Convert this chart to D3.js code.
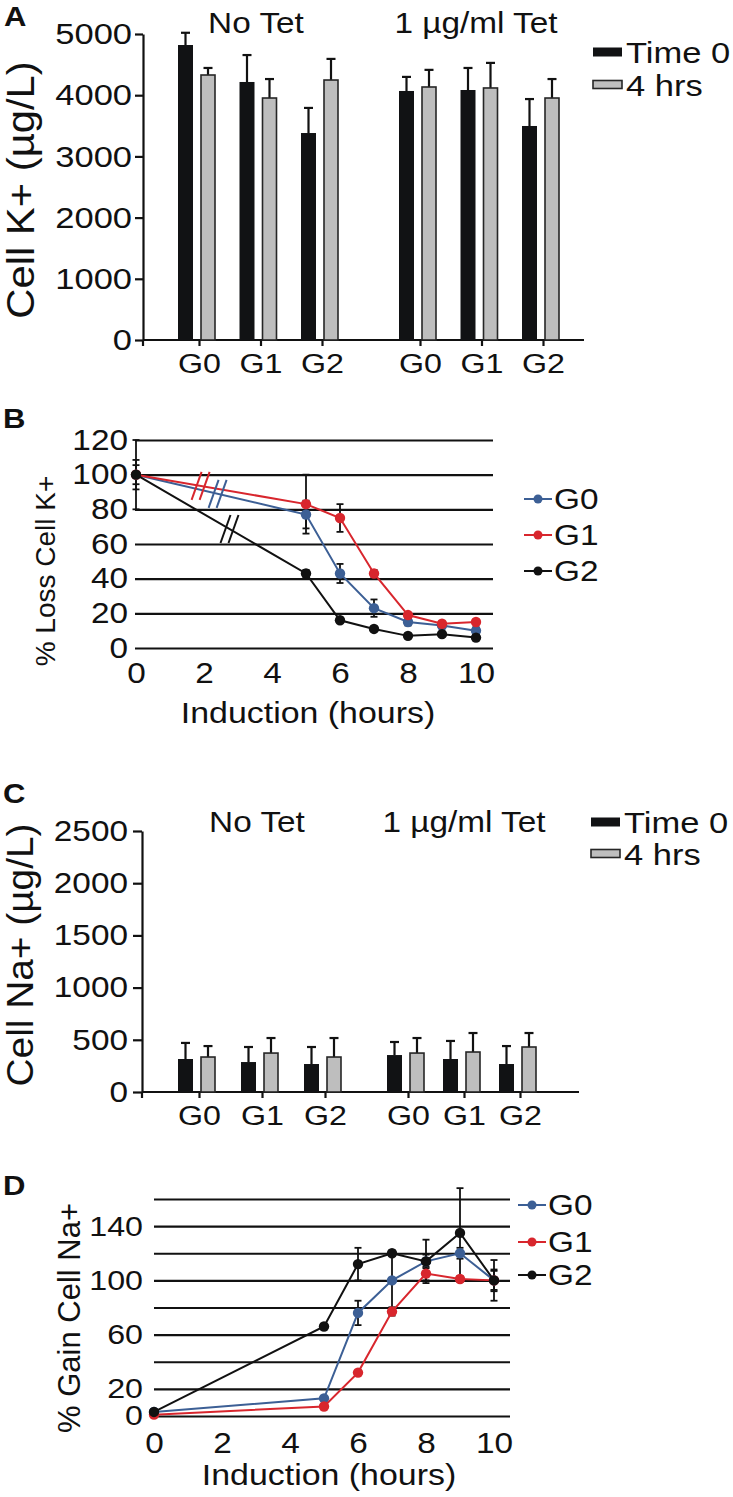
<!DOCTYPE html>
<html><head><meta charset="utf-8">
<script src="https://cdn.jsdelivr.net/npm/d3@7"></script>
<style>
body{margin:0;background:#fff}
text{font-family:"Liberation Sans",Arial,Helvetica,sans-serif;fill:#111}
</style>
</head><body>
<svg id="chart" width="733" height="1497"></svg>
<script>
// ---------------- DATA ----------------
const groups = ["G0", "G1", "G2"];
const conditions = ["No Tet", "1 µg/ml Tet"];
const barSeries = ["Time 0", "4 hrs"];

// Panel A: Cell K+ (µg/L), [condition][group]
const kTime0    = [[4820, 4216, 3382], [4069, 4085, 3497]];
const kTime0Err = [[200, 440, 410], [230, 360, 440]];
const k4hrs     = [[4330, 3954, 4248], [4134, 4118, 3954]];
const k4hrsErr  = [[115, 310, 345], [280, 410, 310]];
const kTicks    = [0, 1000, 2000, 3000, 4000, 5000];

// Panel C: Cell Na+ (µg/L), [condition][group]
const naTime0    = [[316, 287, 268], [354, 316, 268]];
const naTime0Err = [[154, 144, 163], [125, 173, 172]];
const na4hrs     = [[335, 373, 335], [373, 383, 431]];
const na4hrsErr  = [[105, 144, 182], [144, 182, 134]];
const naTicks    = [0, 500, 1000, 1500, 2000, 2500];

// Panels B & D: induction time course
const hours = [0, 5, 6, 7, 8, 9, 10];
const hourTicks = [0, 2, 4, 6, 8, 10];
const lineSeries = ["G0", "G1", "G2"];

const lossG0 = [100, 77, 43, 23, 15, 13, 10];
const lossG1 = [100, 83, 75, 43, 19, 14, 15];
const lossG2 = [100, 43, 16, 11, 7, 8, 6];
const lossG0Err = [8.5, 8, 5.5, 5, 2, 1, 2];
const lossG1Err = [5.5, 17, 8, 2, 1, 1, 1];
const lossG2Err = [20, 2, 1, 1, 1, 1, 1];
const lossGrid = [0, 20, 40, 60, 80, 100, 120];
const lossLabels = [0, 20, 40, 60, 80, 100, 120];
const lossBreakHour = [2.4, 1.9, 2.75];

const gainG0 = [3, 13, 76, 100, 114, 120, 100];
const gainG1 = [1, 7, 32, 77, 105, 101, 100];
const gainG2 = [3, 66, 112, 120, 114, 135, 100];
const gainG0Err = [1, 1, 9, 20, 5, 4, 15];
const gainG1Err = [1, 1, 1, 3, 5, 2, 7];
const gainG2Err = [1, 1, 12, 2, 16, 33, 8];
const gainGrid = [0, 20, 40, 60, 80, 100, 120, 140, 160];
const gainLabels = [0, 20, 60, 100, 140];

const seriesColors = ["#3c5f95", "#d8262d", "#111111"];

// ---------------- DRAWING ----------------
const svg = d3.select("#chart");
const INK = "#111";
const WIDE = 1.15; // the figure's lettering is wider than Arial

function panelLetter(letter, x, y) {
  svg.append("text").attr("x", x).attr("y", y).attr("font-size", 27)
    .attr("font-weight", "bold").text(letter);
}

function yTitle(txt, x, y, size, sx) {
  svg.append("text").attr("class", "yt")
    .attr("transform", `translate(${x},${y}) rotate(-90) scale(${sx},1)`)
    .attr("text-anchor", "middle").attr("font-size", size).text(txt);
}

function barPanel(o) {
  const g = svg.append("g");
  const y = d3.scaleLinear().domain([0, o.ticks[o.ticks.length - 1]]).range([o.y0, o.yTop]);
  const ya = g.append("g").attr("transform", `translate(${o.axisX},0)`)
    .call(d3.axisLeft(y).tickValues(o.ticks).tickFormat(d3.format("d"))
      .tickSize(o.tickLen).tickSizeOuter(0).tickPadding(o.tickPad));
  ya.select(".domain").attr("stroke", INK).attr("stroke-width", 2.2);
  ya.selectAll(".tick line").attr("stroke", INK).attr("stroke-width", 2.2);
  ya.selectAll("text").attr("font-size", o.tickFont).attr("fill", INK);

  g.append("line").attr("x1", o.axisX).attr("x2", o.axisEnd).attr("y1", o.y0).attr("y2", o.y0)
    .attr("stroke", INK).attr("stroke-width", 2.2);
  g.append("line").attr("x1", o.axisX).attr("x2", o.axisX).attr("y1", o.y0).attr("y2", o.y0 + 6)
    .attr("stroke", INK).attr("stroke-width", 2.2);

  const vals = [o.t0, o.t4];
  const errs = [o.t0Err, o.t4Err];
  conditions.forEach((cond, ci) => {
    const xp = d3.scalePoint().domain(groups).range(o.groupRanges[ci]);
    const xa = g.append("g").attr("transform", `translate(0,${o.y0})`)
      .call(d3.axisBottom(xp).tickSize(6).tickSizeOuter(0).tickPadding(o.xPad));
    xa.select(".domain").remove();
    xa.selectAll(".tick line").attr("stroke", INK).attr("stroke-width", 2.2);
    xa.selectAll("text").attr("font-size", 28).attr("fill", INK);

    g.append("text").attr("x", o.condX[ci]).attr("y", o.condY).attr("text-anchor", "middle")
      .attr("font-size", 29).text(cond);

    barSeries.forEach((s, si) => {
      groups.forEach((grp, gi) => {
        const c = xp(grp);
        const bx = si === 0 ? c - 21 : c + 2;
        const bw = si === 0 ? 15 : 14;
        const v = vals[si][ci][gi], e = errs[si][ci][gi];
        const cx = bx + bw / 2;
        g.append("line").attr("x1", cx).attr("x2", cx).attr("y1", y(v)).attr("y2", y(v + e))
          .attr("stroke", INK).attr("stroke-width", 2.2);
        g.append("line").attr("x1", cx - 4.5).attr("x2", cx + 4.5).attr("y1", y(v + e)).attr("y2", y(v + e))
          .attr("stroke", INK).attr("stroke-width", 2.2);
        g.append("rect").attr("x", bx).attr("y", y(v)).attr("width", bw).attr("height", o.y0 - y(v))
          .attr("fill", si === 0 ? "#111214" : "#bebebe")
          .attr("stroke", si === 0 ? "none" : "#262626").attr("stroke-width", 1.6);
      });
    });
  });

  barSeries.forEach((s, si) => {
    const ly = o.legY[si];
    g.append("rect").attr("x", o.legX).attr("y", ly - 4.5).attr("width", 29).attr("height", si === 0 ? 9 : 8)
      .attr("fill", si === 0 ? "#111214" : "#bebebe")
      .attr("stroke", si === 0 ? "none" : "#262626").attr("stroke-width", 1.6);
    g.append("text").attr("x", o.legX + 33).attr("y", ly + 11).attr("font-size", 30).text(s);
  });
}

function linePanel(o) {
  const g = svg.append("g");
  const x = d3.scaleLinear().domain([0, 10]).range(o.xRange);
  const y = d3.scaleLinear().domain([0, o.grid[o.grid.length - 1]]).range(o.yRange);

  const ya = g.append("g").attr("transform", `translate(${o.gridX0},0)`)
    .call(d3.axisLeft(y).tickValues(o.grid).tickSize(-(o.gridX1 - o.gridX0)).tickSizeOuter(0)
      .tickPadding(o.yPad).tickFormat(d => o.labels.includes(d) ? d : ""));
  ya.select(".domain").remove();
  ya.selectAll(".tick line").attr("stroke", INK).attr("stroke-width", 2.2);
  ya.selectAll("text").attr("font-size", o.yFont).attr("fill", INK);

  const xa = g.append("g").attr("transform", `translate(0,${o.yRange[0]})`)
    .call(d3.axisBottom(x).tickValues(hourTicks).tickSize(0).tickPadding(o.xPad));
  xa.select(".domain").remove();
  xa.selectAll("text").attr("font-size", 29).attr("fill", INK);

  g.append("text").attr("x", o.xTitle[0]).attr("y", o.xTitle[1]).attr("text-anchor", "middle")
    .attr("font-size", 29.5).text("Induction (hours)");

  o.series.forEach((vals, si) => {
    vals.forEach((v, i) => {
      const e = o.errs[si][i];
      if (e < 1.5) return;
      const cx = x(hours[i]);
      g.append("line").attr("x1", cx).attr("x2", cx).attr("y1", y(v - e)).attr("y2", y(v + e))
        .attr("stroke", INK).attr("stroke-width", 1.8);
      [v - e, v + e].forEach(t => g.append("line").attr("x1", cx - 3.5).attr("x2", cx + 3.5)
        .attr("y1", y(t)).attr("y2", y(t)).attr("stroke", INK).attr("stroke-width", 1.8));
    });
  });

  const line = d3.line().x((d, i) => x(hours[i])).y(d => y(d));
  o.series.forEach((vals, si) => {
    g.append("path").datum(vals).attr("d", line).attr("fill", "none")
      .attr("stroke", seriesColors[si]).attr("stroke-width", 2);
    g.selectAll(null).data(vals).enter().append("circle")
      .attr("cx", (d, i) => x(hours[i])).attr("cy", d => y(d)).attr("r", 5.2)
      .attr("fill", seriesColors[si]);
  });

  if (o.breaks) {
    o.breaks.forEach((h, si) => {
      const vals = o.series[si];
      const x0 = x(0), y0 = y(vals[0]), x5 = x(5), y5 = y(vals[1]);
      const t = h / 5;
      const px = x0 + (x5 - x0) * t, py = y0 + (y5 - y0) * t;
      [-4, 4].forEach(off => {
        g.append("line").attr("x1", px + off - 5).attr("y1", py + 14)
          .attr("x2", px + off + 5).attr("y2", py - 14)
          .attr("stroke", seriesColors[si]).attr("stroke-width", 2);
      });
    });
  }

  lineSeries.forEach((name, si) => {
    const ly = o.legY[si];
    g.append("line").attr("x1", o.legX).attr("x2", o.legX + 28).attr("y1", ly).attr("y2", ly)
      .attr("stroke", seriesColors[si]).attr("stroke-width", 2);
    g.append("circle").attr("cx", o.legX + 14).attr("cy", ly).attr("r", 4.5).attr("fill", seriesColors[si]);
    g.append("text").attr("x", o.legX + 30).attr("y", ly + 10.5).attr("font-size", 29).text(name);
  });
}

// ---- Panel A ----
panelLetter("A", 4, 26);
yTitle("Cell K+ (µg/L)", 34, 190, 38, 1.1);
barPanel({
  t0: kTime0, t0Err: kTime0Err, t4: k4hrs, t4Err: k4hrsErr, ticks: kTicks,
  y0: 340, yTop: 34, axisX: 143, axisEnd: 584, tickLen: 8, tickPad: 3, tickFont: 30,
  groupRanges: [[199, 322], [420, 543]], xPad: 7,
  condX: [256, 476], condY: 33, legX: 593, legY: [52, 85]
});

// ---- Panel B ----
panelLetter("B", 3, 428);
yTitle("% Loss Cell K+", 55, 571, 28, 1);
linePanel({
  series: [lossG0, lossG1, lossG2], errs: [lossG0Err, lossG1Err, lossG2Err],
  grid: lossGrid, labels: lossLabels, xRange: [136, 476], yRange: [648, 440],
  gridX0: 135, gridX1: 493, yPad: 7, yFont: 29, xPad: 14, xTitle: [308, 723],
  breaks: lossBreakHour, legX: 524, legY: [499, 535, 571]
});

// ---- Panel C ----
panelLetter("C", 3, 803);
yTitle("Cell Na+ (µg/L)", 33, 955, 37, 1.05);
barPanel({
  t0: naTime0, t0Err: naTime0Err, t4: na4hrs, t4Err: na4hrsErr, ticks: naTicks,
  y0: 1092, yTop: 831, axisX: 142, axisEnd: 579, tickLen: 9, tickPad: 5, tickFont: 29,
  groupRanges: [[199, 325], [408, 520]], xPad: 7,
  condX: [257, 464], condY: 832, legX: 591, legY: [822, 854]
});

// ---- Panel D ----
panelLetter("D", 3, 1195);
yTitle("% Gain Cell Na+", 80, 1318, 31, 1);
linePanel({
  series: [gainG0, gainG1, gainG2], errs: [gainG0Err, gainG1Err, gainG2Err],
  grid: gainGrid, labels: gainLabels, xRange: [154, 494], yRange: [1416, 1199],
  gridX0: 154, gridX1: 510, yPad: 11, yFont: 28, xPad: 16, xTitle: [329, 1485],
  breaks: null, legX: 518, legY: [1205, 1242, 1275]
});

// widen horizontal lettering around each text's anchor point
svg.selectAll("text:not(.yt)").each(function () {
  const t = d3.select(this);
  const ax = parseFloat(t.attr("x")) || 0;
  t.attr("transform", `translate(${ax * (1 - WIDE)},0) scale(${WIDE},1)`);
});
</script>
</body></html>
